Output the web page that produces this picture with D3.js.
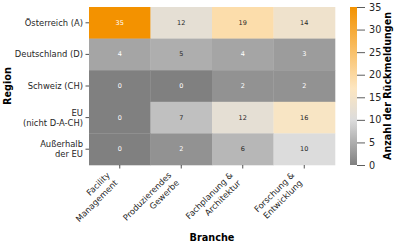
<!DOCTYPE html>
<html>
<head>
<meta charset="utf-8">
<script src="https://cdn.jsdelivr.net/npm/d3@7"></script>
<style>
  body { margin: 0; background: #fff; }
  svg { font-family: "DejaVu Sans", sans-serif; display: block; }
</style>
</head>
<body>
<svg id="chart" width="400" height="244"></svg>
<script>
const regions = [["Österreich (A)"], ["Deutschland (D)"], ["Schweiz (CH)"], ["EU", "(nicht D-A-CH)"], ["Außerhalb", "der EU"]];
const branches = [["Facility", "Management"], ["Produzierendes", "Gewerbe"], ["Fachplanung &", "Architektur"], ["Forschung &", "Entwicklung"]];
const counts = [
  [35, 12, 19, 14],
  [4, 5, 4, 3],
  [0, 0, 2, 2],
  [0, 7, 12, 16],
  [0, 2, 6, 10]
];
const cbarTicks = [0, 5, 10, 15, 20, 25, 30, 35];
const colorStops = [0, 10, 17, 35];
const colorRange = ["#808080", "#dcdcdc", "#fde6c0", "#f39200"];

const width = 400, height = 244;
const margin = {top: 7, left: 89, right: 65, bottom: 79};

const svg = d3.select("#chart");

const x = d3.scaleBand()
  .domain(d3.range(branches.length))
  .range([margin.left, width - margin.right]);
const y = d3.scaleBand()
  .domain(d3.range(regions.length))
  .range([margin.top, height - margin.bottom]);
const color = d3.scaleLinear()
  .domain(colorStops)
  .range(colorRange)
  .interpolate(d3.interpolateRgb);

// seaborn style text colour
function lum(c) {
  const rgb = d3.rgb(c);
  const f = v => { v /= 255; return v <= 0.03928 ? v / 12.92 : Math.pow((v + 0.055) / 1.055, 2.4); };
  return 0.2126 * f(rgb.r) + 0.7152 * f(rgb.g) + 0.0722 * f(rgb.b);
}

const cells = [];
counts.forEach((row, i) => row.forEach((v, j) => cells.push({i, j, v})));

svg.append("g").selectAll("rect")
  .data(cells).enter().append("rect")
  .attr("x", d => x(d.j))
  .attr("y", d => y(d.i))
  .attr("width", x.bandwidth() + 0.3)
  .attr("height", y.bandwidth() + 0.3)
  .attr("fill", d => color(d.v));

svg.append("g").selectAll("text")
  .data(cells).enter().append("text")
  .attr("x", d => x(d.j) + x.bandwidth() / 2)
  .attr("y", d => y(d.i) + y.bandwidth() / 2)
  .attr("text-anchor", "middle")
  .attr("dominant-baseline", "central")
  .attr("font-size", 6.5)
  .attr("fill", d => lum(color(d.v)) > 0.408 ? "#262626" : "#fff")
  .text(d => d.v);

// y axis
const yAxis = svg.append("g");
regions.forEach((lines, i) => {
  const cy = y(i) + y.bandwidth() / 2;
  yAxis.append("line")
    .attr("x1", margin.left - 3.5).attr("x2", margin.left)
    .attr("y1", cy).attr("y2", cy)
    .attr("stroke", "#262626").attr("stroke-width", 0.8);
  const t = yAxis.append("text")
    .attr("text-anchor", "end")
    .attr("font-size", 8.4)
    .attr("fill", "#262626");
  const lh = 10;
  lines.forEach((l, k) => {
    t.append("tspan")
      .attr("x", margin.left - 6)
      .attr("y", cy + 3 + (k - (lines.length - 1) / 2) * lh)
      .text(l);
  });
});

// x axis
const xAxis = svg.append("g");
const axisY = height - margin.bottom;
branches.forEach((lines, j) => {
  const cx = x(j) + x.bandwidth() / 2;
  xAxis.append("line")
    .attr("x1", cx).attr("x2", cx)
    .attr("y1", axisY).attr("y2", axisY + 3.5)
    .attr("stroke", "#262626").attr("stroke-width", 0.8);
  const g = xAxis.append("g")
    .attr("transform", `translate(${cx - 15},${axisY + 5}) rotate(-45)`);
  const t = g.append("text")
    .attr("text-anchor", "end")
    .attr("font-size", 8.4)
    .attr("fill", "#262626");
  lines.forEach((l, k) => {
    t.append("tspan").attr("x", 0).attr("y", 8 + k * 11).text(l);
  });
});

// axis titles
svg.append("text")
  .attr("transform", `translate(11,${(margin.top + axisY) / 2}) rotate(-90)`)
  .attr("text-anchor", "middle")
  .attr("font-size", 9.7)
  .attr("font-weight", "bold")
  .attr("fill", "#000")
  .text("Region");

svg.append("text")
  .attr("x", (margin.left + width - margin.right) / 2)
  .attr("y", 241)
  .attr("text-anchor", "middle")
  .attr("font-size", 9.7)
  .attr("font-weight", "bold")
  .attr("fill", "#000")
  .text("Branche");

// colorbar
const cbX = 350, cbW = 7;
const cbScale = d3.scaleLinear().domain([0, 35]).range([axisY, margin.top]);
const grad = svg.append("defs").append("linearGradient")
  .attr("id", "cbgrad")
  .attr("x1", 0).attr("y1", 1).attr("x2", 0).attr("y2", 0);
colorStops.forEach((s, k) => {
  grad.append("stop").attr("offset", s / 35).attr("stop-color", colorRange[k]);
});
svg.append("rect")
  .attr("x", cbX).attr("y", margin.top)
  .attr("width", cbW).attr("height", axisY - margin.top)
  .attr("fill", "url(#cbgrad)");

const cbAxis = svg.append("g")
  .attr("transform", `translate(${cbX + cbW},0)`)
  .call(d3.axisRight(cbScale).tickValues(cbarTicks).tickSize(8).tickPadding(4));
cbAxis.select(".domain").remove();
cbAxis.selectAll(".tick line").attr("stroke", "#333").attr("stroke-width", 0.8);
cbAxis.selectAll(".tick text")
  .attr("font-size", 9.7)
  .attr("font-family", "DejaVu Sans")
  .attr("fill", "#262626");

svg.append("text")
  .attr("transform", `translate(391,${(margin.top + axisY) / 2}) rotate(-90)`)
  .attr("text-anchor", "middle")
  .attr("font-size", 9.6)
  .attr("font-weight", "bold")
  .attr("fill", "#000")
  .text("Anzahl der Rückmeldungen");
</script>
</body>
</html>
